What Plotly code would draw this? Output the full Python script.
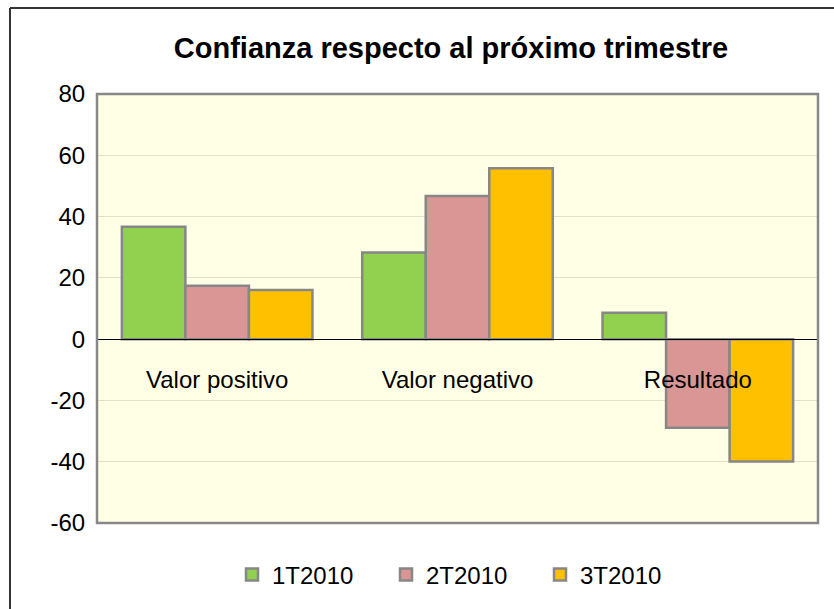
import plotly.graph_objects as go

categories = ["Valor positivo", "Valor negativo", "Resultado"]
series_names = ["1T2010", "2T2010", "3T2010"]
values_1t = [36.7, 28.3, 8.6]
values_2t = [17.4, 46.7, -28.9]
values_3t = [16.0, 55.8, -39.9]
colors = ["#92D050", "#D99694", "#FFC000"]
y_ticks = [-60, -40, -20, 0, 20, 40, 60, 80]
y_tick_labels = [str(v) for v in y_ticks]

FONT = "Liberation Sans, Arial, sans-serif"

fig = go.Figure()
for name, vals, col in zip(series_names, [values_1t, values_2t, values_3t], colors):
    fig.add_trace(go.Bar(
        x=categories, y=vals, name=name,
        marker=dict(color=col, line=dict(color="#878787", width=2.5)),
    ))

W, H = 834, 609
L, R, T, B = 97, 16, 94, 86
pw, ph = W - L - R, H - T - B

def px_x(p):
    return (p - L) / pw

def px_y(p):
    return (H - B - p) / ph

ymin, ymax = -60, 80
zero_pos = (0 - ymin) / (ymax - ymin)

fig.update_layout(
    width=W, height=H,
    margin=dict(l=L, r=R, t=T, b=B),
    paper_bgcolor="white",
    plot_bgcolor="#FFFFE6",
    barmode="group",
    bargap=0.207,
    bargroupgap=0,
    font=dict(family=FONT, size=24, color="black"),
    title=dict(
        text="<b>Confianza respecto al próximo trimestre</b>",
        x=px_x(451), xref="paper", xanchor="center",
        y=1 - 48 / H, yref="container", yanchor="middle",
        font=dict(family=FONT, size=29, color="black"),
    ),
    xaxis=dict(
        anchor="free", position=zero_pos,
        showgrid=False, zeroline=False,
        showline=True, linecolor="black", linewidth=1,
        ticks="outside", ticklen=19, tickcolor="rgba(0,0,0,0)",
        tickfont=dict(family=FONT, size=24, color="black"),
    ),
    yaxis=dict(
        range=[ymin, ymax], tickvals=y_ticks, ticktext=y_tick_labels,
        showgrid=True, gridcolor="#E3E1CC", gridwidth=1,
        zeroline=False, showline=False,
        ticks="outside", ticklen=6, tickcolor="rgba(0,0,0,0)",
        tickfont=dict(family=FONT, size=24, color="black"),
    ),
    legend=dict(
        orientation="h", x=px_x(463), xanchor="center",
        y=px_y(575), yanchor="middle",
        font=dict(family=FONT, size=24, color="black"),
        entrywidth=109, itemwidth=30,
        bgcolor="rgba(0,0,0,0)",
    ),
    showlegend=True,
)

# plot area border
fig.add_shape(type="rect", xref="paper", yref="paper", x0=0, x1=1, y0=0, y1=1,
              line=dict(color="#888888", width=2.5), fillcolor="rgba(0,0,0,0)", layer="above")
# outer chart border (top and left)
fig.add_shape(type="line", xref="paper", yref="paper",
              x0=px_x(10), x1=px_x(840), y0=px_y(8), y1=px_y(8),
              line=dict(color="#333333", width=2))
fig.add_shape(type="line", xref="paper", yref="paper",
              x0=px_x(10), x1=px_x(10), y0=px_y(8), y1=px_y(615),
              line=dict(color="#333333", width=2))

fig.write_html("out.html", config={"displayModeBar": False},
               post_script="document.body.style.margin='0';")
